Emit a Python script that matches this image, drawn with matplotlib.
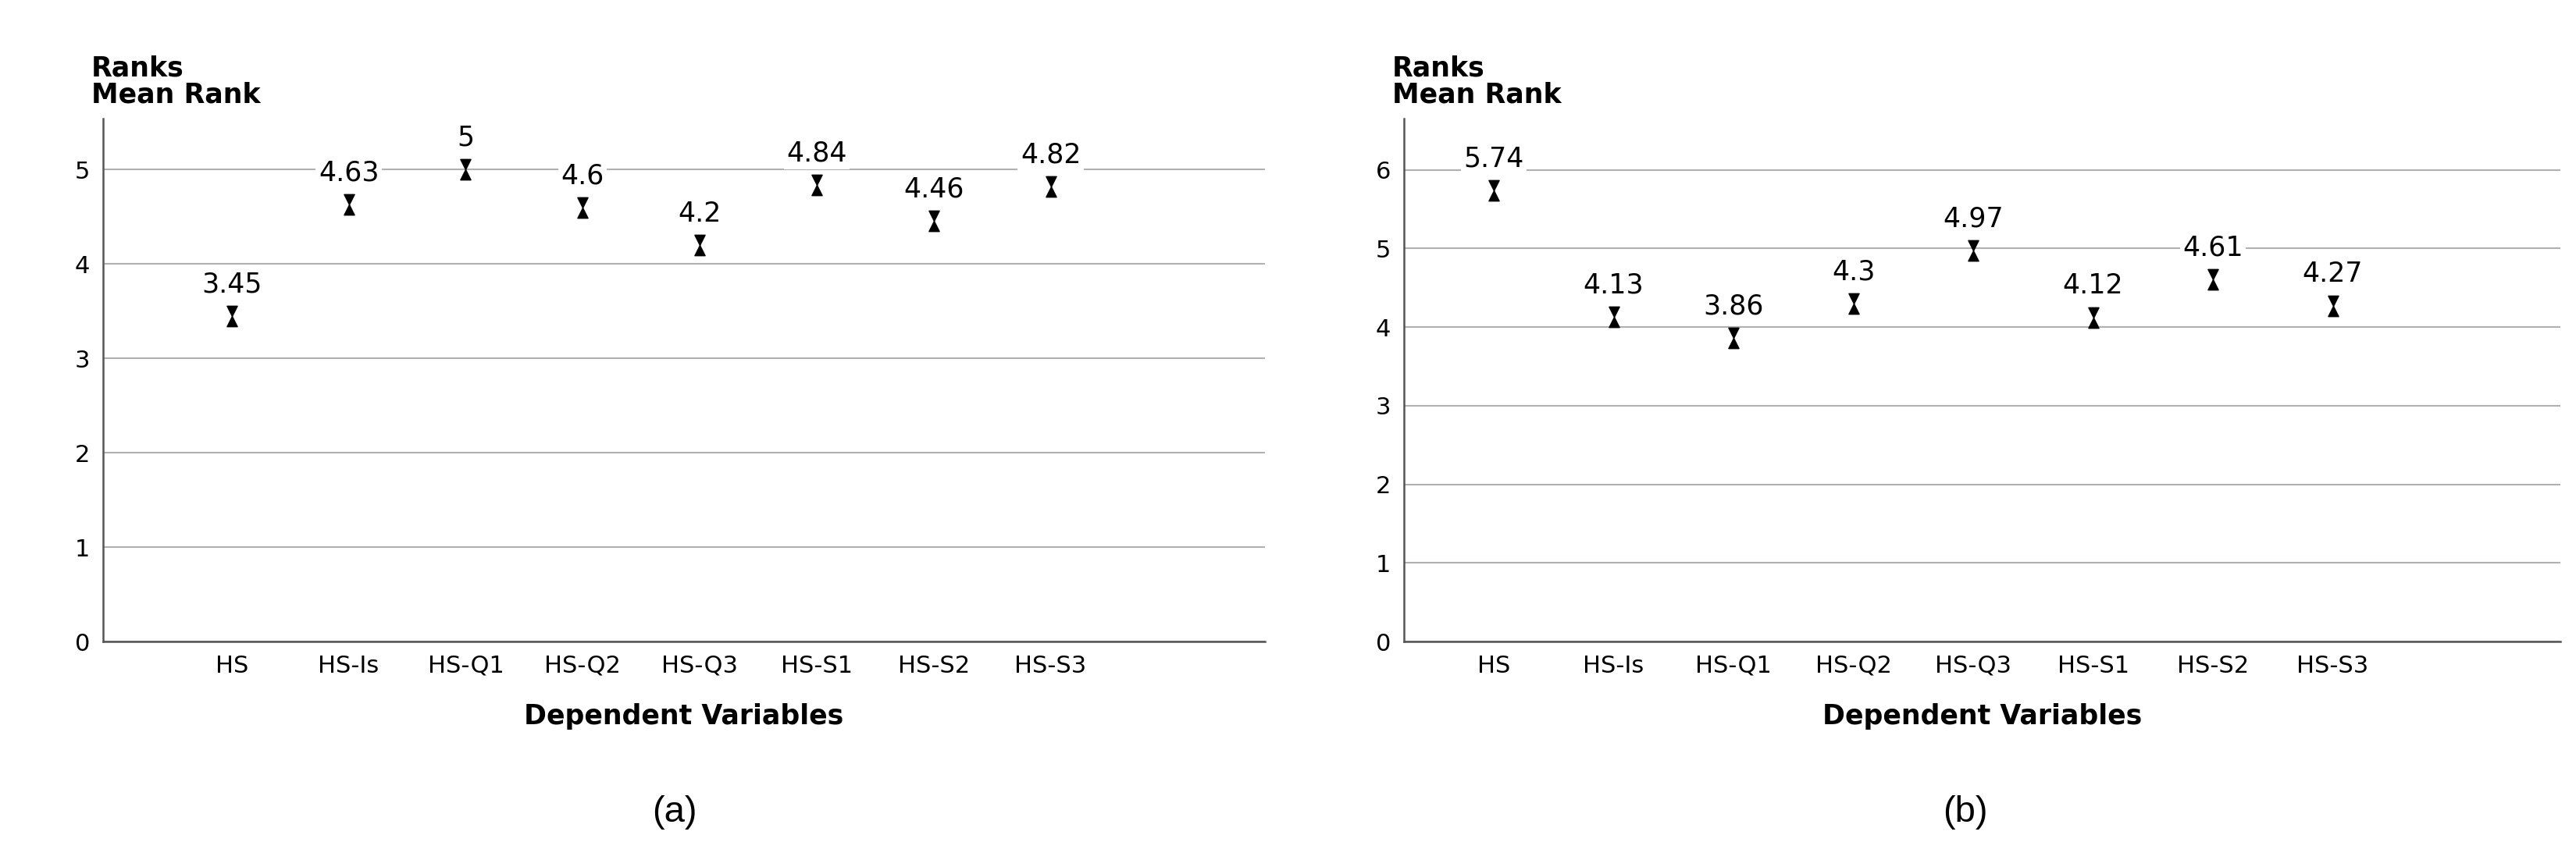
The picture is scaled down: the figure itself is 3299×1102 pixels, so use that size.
import matplotlib
matplotlib.use("Agg")
import matplotlib.pyplot as plt
from matplotlib.path import Path

categories = ["HS", "HS-Is", "HS-Q1", "HS-Q2", "HS-Q3", "HS-S1", "HS-S2", "HS-S3"]
values_a = [3.45, 4.63, 5, 4.6, 4.2, 4.84, 4.46, 4.82]
values_b = [5.74, 4.13, 3.86, 4.3, 4.97, 4.12, 4.61, 4.27]
labels_a = ["3.45", "4.63", "5", "4.6", "4.2", "4.84", "4.46", "4.82"]
labels_b = ["5.74", "4.13", "3.86", "4.3", "4.97", "4.12", "4.61", "4.27"]

w = 0.5
hourglass = Path([(-w, 1), (w, 1), (0, 0), (-w, 1), (0, 0), (-w, -1), (w, -1), (0, 0)],
                 [1, 2, 2, 79, 1, 2, 2, 79])

fig = plt.figure(figsize=(32.99, 11.02), dpi=100)
specs = [
    ([0.040, 0.254, 0.451, 0.608], values_a, labels_a, 5.54, [0, 1, 2, 3, 4, 5], (-1.1, 8.83), "(a)", 0.262),
    ([0.545, 0.254, 0.449, 0.608], values_b, labels_b, 6.65, [0, 1, 2, 3, 4, 5, 6], (-0.75, 8.9), "(b)", 0.763),
]
for rect, vals, labs, ymax, ticks, xl, tag, tx in specs:
    ax = fig.add_axes(rect)
    x = list(range(len(categories)))
    ax.plot(x, vals, linestyle="none", marker=hourglass, markersize=19, color="black", zorder=3)
    for xi, v, l in zip(x, vals, labs):
        ax.annotate(l, (xi, v), xytext=(0, 17), textcoords="offset points", ha="center", va="bottom",
                    fontsize=25, zorder=4,
                    bbox=dict(boxstyle="square,pad=0.1", fc="white", ec="none"))
    ax.set_ylim(0, ymax)
    ax.set_xlim(*xl)
    ax.set_yticks(ticks)
    ax.set_xticks(x)
    ax.set_xticklabels(categories)
    ax.tick_params(length=0, labelsize=22, pad=12)
    ax.yaxis.grid(True, color="#b0b0b0", linewidth=1.5)
    ax.set_axisbelow(True)
    for s in ["top", "right"]:
        ax.spines[s].set_visible(False)
    for s in ["left", "bottom"]:
        ax.spines[s].set_color("#555555")
        ax.spines[s].set_linewidth(1.8)
    ax.set_xlabel("Dependent Variables", fontsize=25, fontweight="bold", labelpad=24)
    ax.text(-0.01, 1.02, "Ranks\nMean Rank", transform=ax.transAxes, fontsize=25,
            fontweight="bold", ha="left", va="bottom", linespacing=1.0)
    fig.text(tx, 0.035, tag, fontsize=34, ha="center", va="bottom", family="Liberation Sans")

fig.savefig("out.png", dpi=100)
